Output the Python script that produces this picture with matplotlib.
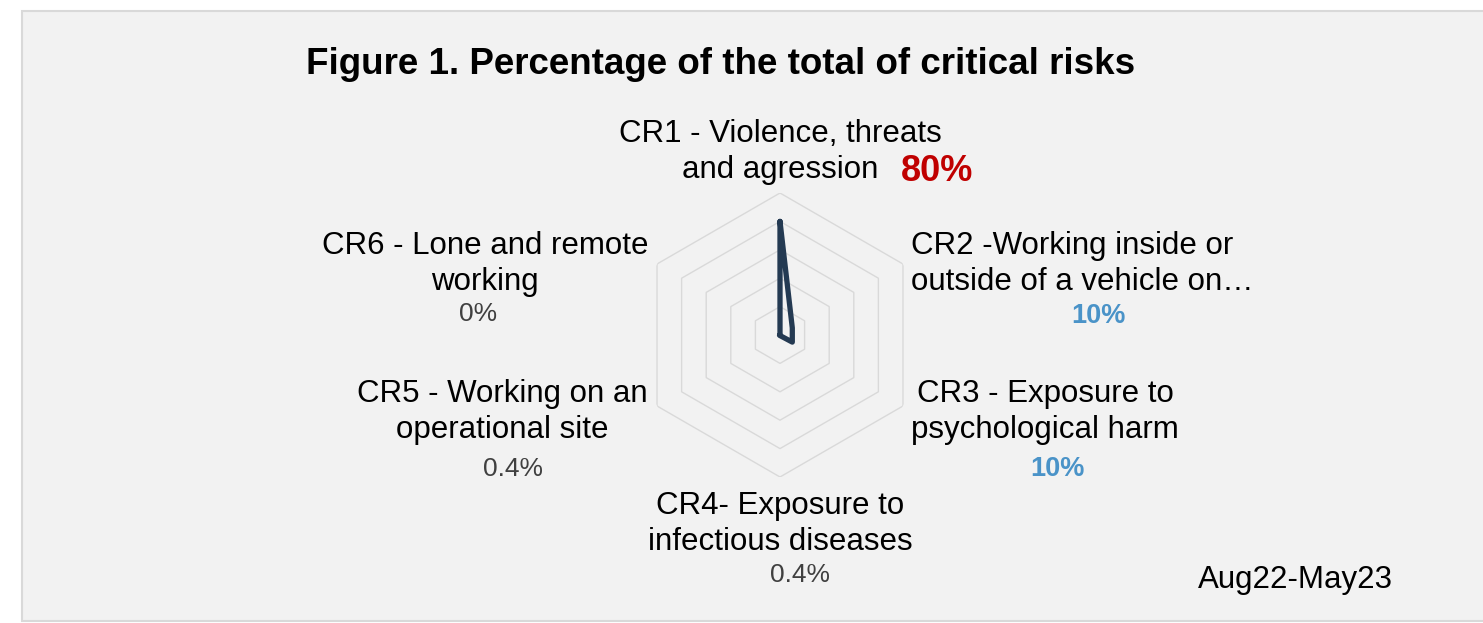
import matplotlib.pyplot as plt
import numpy as np
from matplotlib.patches import Rectangle

W, H = 1483, 623

categories = ["CR1 - Violence, threats\nand agression",
              "CR2 -Working inside or\noutside of a vehicle on\u2026",
              "CR3 - Exposure to\npsychological harm",
              "CR4- Exposure to\ninfectious diseases",
              "CR5 - Working on an\noperational site",
              "CR6 - Lone and remote\nworking"]
values = [80, 10, 10, 0.4, 0.4, 0]
value_labels = ["80%", "10%", "10%", "0.4%", "0.4%", "0%"]
rings = [20, 40, 60, 80, 100]

plt.rcParams['font.family'] = ['Liberation Sans', 'DejaVu Sans']

fig = plt.figure(figsize=(W / 100, H / 100), dpi=100)
fig.patch.set_facecolor("white")

# chart area box
fig.patches.append(Rectangle((22 / W, 2 / H), 1.0, (H - 13) / H, transform=fig.transFigure,
                             facecolor="#f2f2f2", edgecolor="#d9d9d9", linewidth=1.5, zorder=-5))


def px(x, y):
    return x / W, 1 - y / H


# polar axes centred at (780, 335), radius 142 px
cx, cy, R = 780, 335, 142
ax = fig.add_axes([(cx - R) / W, (H - cy - R) / H, 2 * R / W, 2 * R / H], projection="polar")
ax.set_zorder(2)
ax.set_facecolor("none")
ax.set_theta_offset(np.pi / 2)
ax.set_theta_direction(-1)
ax.set_ylim(0, 100)
ax.grid(False)
ax.spines["polar"].set_visible(False)
ax.set_xticks([])
ax.set_yticks([])

theta = np.linspace(0, 2 * np.pi, len(categories), endpoint=False)
theta_c = np.append(theta, theta[0])
for r in rings:
    ax.plot(theta_c, [r] * len(theta_c), color="#d9d9d9", lw=1.0, zorder=1)

vals = np.append(values, values[0])
ax.plot(theta_c, vals, color="#243a52", lw=3.8, solid_joinstyle="round",
        solid_capstyle="round", zorder=3, clip_on=False)

# title
fig.text(*px(721, 74), "Figure 1. Percentage of the total of critical risks", ha="center",
         va="baseline", fontsize=26.5, fontweight="bold", color="black")

# category labels: x, baseline of the last line, alignment
label_pos = [(780, 178, "center"), (911, 290, "left"), (1045, 438, "center"),
             (780, 550, "center"), (502, 438, "center"), (485, 290, "center")]
line_step = 36
for text, (x, y, ha) in zip(categories, label_pos):
    lines = text.split("\n")
    for i, line in enumerate(reversed(lines)):
        fig.text(*px(x, y - i * line_step), line, ha=ha, va="baseline",
                 fontsize=22.5, color="black")

val_pos = [(937, 181), (1098, 323), (1057, 476), (800, 582), (513, 476), (478, 321)]
val_style = [dict(color="#c00000", fontsize=26, fontweight="bold"),
             dict(color="#4a93c8", fontsize=19.5, fontweight="bold"),
             dict(color="#4a93c8", fontsize=19.5, fontweight="bold"),
             dict(color="#404040", fontsize=19),
             dict(color="#404040", fontsize=19),
             dict(color="#404040", fontsize=19)]
for text, (x, y), st in zip(value_labels, val_pos, val_style):
    fig.text(*px(x, y), text, ha="center", va="baseline", **st)

fig.text(*px(1295, 588), "Aug22-May23", ha="center", va="baseline", fontsize=22.5, color="black")

fig.savefig("out.png", dpi=100, facecolor=fig.get_facecolor())
